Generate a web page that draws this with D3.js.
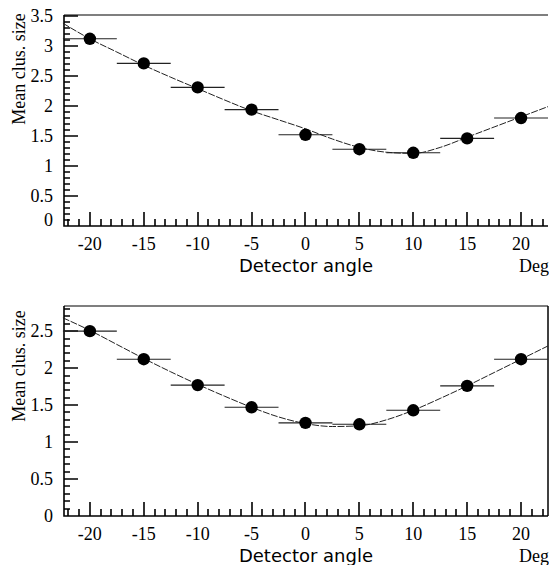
<!DOCTYPE html>
<html><head><meta charset="utf-8">
<script src="https://cdn.jsdelivr.net/npm/d3@7"></script>
<style>body{margin:0;background:#fff}svg{display:block}</style>
</head><body>
<script>
const angles = [-20, -15, -10, -5, 0, 5, 10, 15, 20];
const topValues = [3.12, 2.71, 2.31, 1.94, 1.52, 1.28, 1.22, 1.46, 1.80];
const bottomValues = [2.50, 2.12, 1.77, 1.47, 1.26, 1.24, 1.43, 1.76, 2.12];
const binHalfWidth = 2.5;
const fitAngles = [-22.5, -20, -17.5, -15, -12.5, -10, -7.5, -5, -2.5, 0, 2.5, 5, 7.5, 10, 12.5, 15, 17.5, 20, 22.5];
const topFit = [3.38, 3.12, 2.90, 2.68, 2.48, 2.29, 2.10, 1.92, 1.77, 1.62, 1.45, 1.31, 1.23, 1.21, 1.31, 1.48, 1.65, 1.82, 1.99];
const bottomFit = [2.68, 2.51, 2.32, 2.13, 1.95, 1.78, 1.62, 1.47, 1.34, 1.25, 1.21, 1.22, 1.30, 1.43, 1.59, 1.76, 1.94, 2.12, 2.30];
const xTicks = [-20, -15, -10, -5, 0, 5, 10, 15, 20];
const xMinorTicks = [-22, -21, -19, -18, -17, -16, -14, -13, -12, -11, -9, -8, -7, -6, -4, -3, -2, -1, 1, 2, 3, 4, 6, 7, 8, 9, 11, 12, 13, 14, 16, 17, 18, 19, 21, 22];
const topYTicks = [0, 0.5, 1, 1.5, 2, 2.5, 3, 3.5];
const bottomYTicks = [0, 0.5, 1, 1.5, 2, 2.5];
const xLabel = "Detector angle";
const unitLabel = "Deg";
const yLabel = "Mean clus. size";

const W = 549, H = 565;
const svg = d3.select("body").append("svg").attr("width", W).attr("height", H);

function panel(cfg) {
  const L = 64, R = 548;
  const x = d3.scaleLinear().domain([-22.4, 22.5]).range([L, R]);
  const y = d3.scaleLinear().domain([0, cfg.ymax]).range([cfg.bottom, cfg.top]);
  const g = svg.append("g");
  const ink = "#000";

  // frame: top line, right edge (bottom panel), left and bottom axis lines
  g.append("line").attr("x1", L).attr("x2", R).attr("y1", cfg.top).attr("y2", cfg.top).attr("stroke", ink).attr("stroke-width", 1.2);
  if (cfg.rightEdge) g.append("line").attr("x1", R).attr("x2", R).attr("y1", cfg.top).attr("y2", cfg.bottom).attr("stroke", ink).attr("stroke-width", 1.5);

  // all inward ticks plus the two axis lines as one path built from the scales
  const yMinor = d3.range(0, Math.floor(cfg.ymax * 10 + 1e-6) + 1).filter(i => i % 5 !== 0).map(i => i / 10);
  const p = d3.path();
  p.moveTo(L, cfg.top); p.lineTo(L, cfg.bottom); p.lineTo(R, cfg.bottom);
  xTicks.forEach(d => { const px = Math.round(x(d)); p.moveTo(px, cfg.bottom); p.lineTo(px, cfg.bottom - 14); });
  xMinorTicks.forEach(d => { const px = Math.round(x(d)); p.moveTo(px, cfg.bottom); p.lineTo(px, cfg.bottom - 7); });
  cfg.yTicks.forEach(d => { const py = Math.round(y(d)); p.moveTo(L, py); p.lineTo(L + 14, py); });
  yMinor.forEach(d => { const py = Math.round(y(d)); p.moveTo(L, py); p.lineTo(L + 6, py); });
  g.append("path").attr("d", p.toString()).attr("fill", "none").attr("stroke", ink).attr("stroke-width", 1.6);

  // labels
  g.append("g").selectAll("text").data(xTicks).join("text")
    .attr("x", d => x(d)).attr("y", cfg.bottom + 24)
    .attr("text-anchor", "middle").attr("font-family", "Liberation Serif, serif").attr("font-size", 18)
    .text(d => d);
  g.append("g").selectAll("text").data(cfg.yTicks).join("text")
    .attr("x", 53).attr("y", d => y(d) + 6 - (d === 0 ? cfg.zeroShift : 0))
    .attr("text-anchor", "end").attr("font-family", "Liberation Serif, serif").attr("font-size", 18)
    .text(d => d);
  g.append("text").attr("x", 306).attr("y", cfg.bottom + 46)
    .attr("text-anchor", "middle").attr("font-family", "DejaVu Sans, sans-serif").attr("font-size", 18)
    .text(xLabel);
  g.append("text").attr("x", 549).attr("y", cfg.bottom + 46)
    .attr("text-anchor", "end").attr("font-family", "Liberation Serif, serif").attr("font-size", 18)
    .text(unitLabel);
  g.append("text").attr("transform", `translate(25,${cfg.ylabelY}) rotate(-90)`)
    .attr("text-anchor", "middle").attr("font-family", "Liberation Serif, serif").attr("font-size", 18)
    .text(yLabel);

  // fit curve
  const line = d3.line().x(d => x(d[0])).y(d => y(d[1])).curve(d3.curveMonotoneX);
  g.append("path").datum(fitAngles.map((a, i) => [a, cfg.fit[i]]))
    .attr("d", line).attr("fill", "none").attr("stroke", "#222").attr("stroke-width", 1)
    .attr("stroke-dasharray", "7,1.5");

  // error bars + points
  const pts = angles.map((a, i) => [a, cfg.values[i]]);
  g.append("g").selectAll("line").data(pts).join("line")
    .attr("x1", d => x(d[0] - binHalfWidth)).attr("x2", d => x(d[0] + binHalfWidth))
    .attr("y1", d => y(d[1])).attr("y2", d => y(d[1]))
    .attr("stroke", "#222").attr("stroke-width", 1.1);
  g.append("g").selectAll("circle").data(pts).join("circle")
    .attr("cx", d => x(d[0])).attr("cy", d => y(d[1])).attr("r", 6.2).attr("fill", "#000");
}

panel({ top: 15, bottom: 226, ymax: 3.517, yTicks: topYTicks, values: topValues, fit: topFit, ylabelY: 69, zeroShift: 6, rightEdge: false });
panel({ top: 306, bottom: 516, ymax: 2.84, yTicks: bottomYTicks, values: bottomValues, fit: bottomFit, ylabelY: 366, zeroShift: 0, rightEdge: true });
</script>
</body></html>
